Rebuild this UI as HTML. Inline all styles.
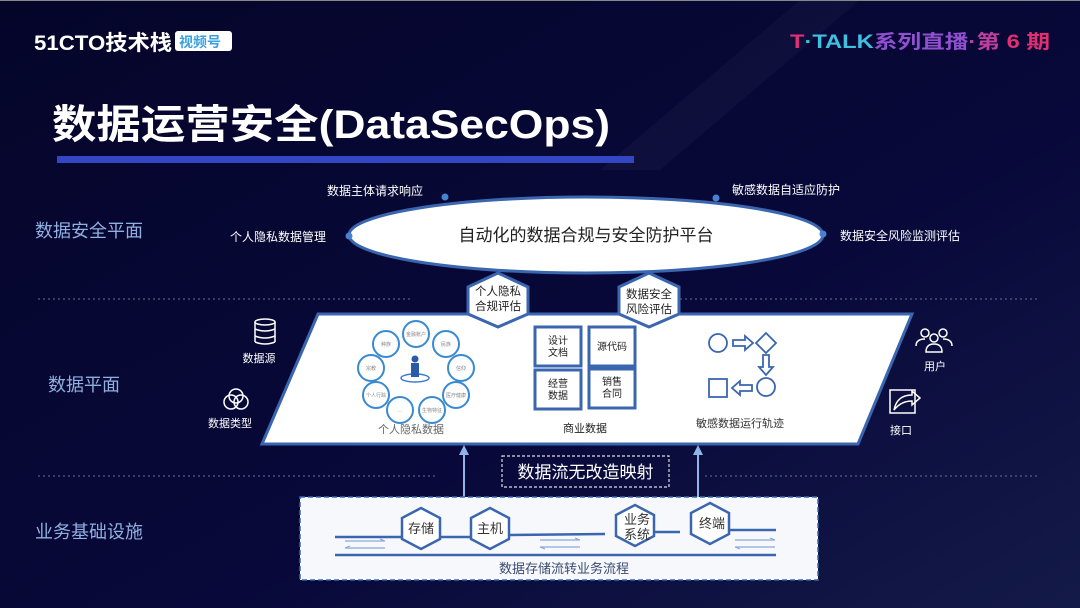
<!DOCTYPE html>
<html><head><meta charset="utf-8"><style>
html,body{margin:0;padding:0;width:1080px;height:608px;overflow:hidden;background:#05052a}
svg{display:block}
text{font-family:"Liberation Sans","Noto Sans CJK SC",sans-serif}
</style></head><body>
<svg width="1080" height="608" viewBox="0 0 1080 608" xmlns="http://www.w3.org/2000/svg">
<defs>
<linearGradient id="bg" x1="0" y1="0" x2="1" y2="1">
<stop offset="0" stop-color="#05052a"/><stop offset="0.6" stop-color="#08093a"/><stop offset="1" stop-color="#141a48"/>
</linearGradient>
<marker id="ah" viewBox="0 0 10 10" refX="5" refY="5" markerWidth="5" markerHeight="5" orient="auto"><path d="M0,0L10,5L0,10z" fill="#8fb4e8"/></marker>
</defs>
<rect width="1080" height="608" fill="url(#bg)"/>
<polygon points="600,170 800,0 860,0 660,170" fill="#ffffff" opacity="0.03"/>
<rect x="0" y="0" width="1080" height="1" fill="#888"/>
<!-- header -->
<text x="34" y="50" font-size="21" font-weight="bold" fill="#fff" textLength="138" lengthAdjust="spacingAndGlyphs">51CTO技术栈</text>
<rect x="175" y="31" width="57" height="20" rx="3" fill="#fff"/>
<text x="179" y="47" font-size="14" font-weight="bold" fill="#3aa0e0">视频号</text>
<text x="790" y="48" font-size="19" font-weight="bold" textLength="260" lengthAdjust="spacingAndGlyphs"><tspan fill="#e0307a">T</tspan><tspan fill="#40c0e0">·TALK</tspan><tspan fill="#9050d0">系列直播</tspan><tspan fill="#c040a0">·第</tspan><tspan fill="#e03070"> 6 期</tspan></text>
<text x="52" y="138" font-size="40" font-weight="bold" fill="#fff" textLength="558" lengthAdjust="spacingAndGlyphs">数据运营安全(DataSecOps)</text>
<rect x="57" y="156" width="577" height="7" fill="#3346c4"/>
<!-- dotted lines -->
<line x1="38" y1="299" x2="410" y2="299" stroke="#6a7090" stroke-dasharray="2,3" stroke-width="1"/>
<line x1="650" y1="299" x2="1040" y2="299" stroke="#6a7090" stroke-dasharray="2,3" stroke-width="1"/>
<line x1="38" y1="476" x2="436" y2="476" stroke="#6a7090" stroke-dasharray="2,3" stroke-width="1"/>
<line x1="705" y1="476" x2="1040" y2="476" stroke="#6a7090" stroke-dasharray="2,3" stroke-width="1"/>
<!-- left labels -->
<text x="35" y="237" font-size="18" fill="#8fb0e0">数据安全平面</text>
<text x="48" y="391" font-size="18" fill="#8fb0e0">数据平面</text>
<text x="35" y="538" font-size="18" fill="#8fb0e0">业务基础设施</text>
<!-- ellipse -->
<ellipse cx="586" cy="235" rx="237" ry="38" fill="#fff" stroke="#3a66b0" stroke-width="3"/>
<text x="586" y="241" font-size="17" fill="#222" text-anchor="middle">自动化的数据合规与安全防护平台</text>
<circle cx="349" cy="236" r="3.5" fill="#4a80d0"/>
<circle cx="823" cy="234" r="3.5" fill="#4a80d0"/>
<circle cx="445" cy="197" r="3.5" fill="#4a80d0"/>
<circle cx="716" cy="198" r="3.5" fill="#4a80d0"/>
<text x="327" y="195" font-size="12" fill="#fff">数据主体请求响应</text>
<text x="732" y="194" font-size="12" fill="#fff">敏感数据自适应防护</text>
<text x="230" y="241" font-size="12" fill="#fff">个人隐私数据管理</text>
<text x="840" y="240" font-size="12" fill="#fff">数据安全风险监测评估</text>
<!-- parallelogram -->
<polygon points="318,314 912,314 858,444 262,444" fill="#fff" stroke="#3a66b0" stroke-width="3"/>
<!-- hexagons top -->
<polygon points="498,273 528,287 528,314 498,327 468,314 468,287" fill="#fff" stroke="#3a66b0" stroke-width="3"/>
<text x="498" y="295" font-size="11.5" fill="#222" text-anchor="middle">个人隐私</text>
<text x="498" y="310" font-size="11.5" fill="#222" text-anchor="middle">合规评估</text>
<polygon points="649,273 679,287 679,314 649,327 619,314 619,287" fill="#fff" stroke="#3a66b0" stroke-width="3"/>
<text x="649" y="298" font-size="11.5" fill="#222" text-anchor="middle">数据安全</text>
<text x="649" y="313" font-size="11.5" fill="#222" text-anchor="middle">风险评估</text>
<!-- privacy ring -->
<g fill="#fff" stroke="#3a8ad0" stroke-width="2">
<circle cx="416" cy="334" r="13"/><circle cx="446" cy="344" r="13"/><circle cx="461" cy="368" r="13"/>
<circle cx="456" cy="395" r="13"/><circle cx="432" cy="410" r="13"/><circle cx="400" cy="410" r="13"/>
<circle cx="376" cy="395" r="13"/><circle cx="371" cy="368" r="13"/><circle cx="386" cy="344" r="13"/>
</g>
<g font-size="5" fill="#888" text-anchor="middle">
<text x="416" y="336">金融账户</text><text x="446" y="346">民族</text><text x="461" y="370">信仰</text>
<text x="456" y="397">医疗健康</text><text x="432" y="412">生物特征</text><text x="400" y="412">…</text>
<text x="376" y="397">个人行踪</text><text x="371" y="370">宗教</text><text x="386" y="346">种族</text>
</g>
<ellipse cx="415" cy="378" rx="14" ry="4" fill="none" stroke="#3a7ad0" stroke-width="1.5"/>
<circle cx="415" cy="359" r="3.5" fill="#2a5aa8"/>
<rect x="411" y="363" width="8" height="14" fill="#2a5aa8"/>
<text x="411" y="433" font-size="11" fill="#666" text-anchor="middle">个人隐私数据</text>
<!-- business boxes -->
<g fill="#fff" stroke="#3a66b0" stroke-width="3">
<rect x="535" y="327" width="46" height="39"/><rect x="589" y="327" width="46" height="39"/>
<rect x="535" y="370" width="46" height="39"/><rect x="589" y="369" width="46" height="39"/>
</g>
<g font-size="10" fill="#222" text-anchor="middle">
<text x="558" y="344">设计</text><text x="558" y="356">文档</text>
<text x="612" y="350">源代码</text>
<text x="558" y="387">经营</text><text x="558" y="399">数据</text>
<text x="612" y="385">销售</text><text x="612" y="397">合同</text>
</g>
<text x="585" y="432" font-size="11" fill="#222" text-anchor="middle">商业数据</text>
<!-- flow -->
<g fill="none" stroke="#3a66b0" stroke-width="1.8">
<circle cx="718" cy="343" r="9"/>
<polygon points="766,333 776,343 766,353 756,343"/>
<path d="M733,340h12v-4l8,7-8,7v-4h-12z"/>
<path d="M763,355v12h-4l7,8 7-8h-4v-12z"/>
<circle cx="766" cy="387" r="9"/>
<rect x="709" y="379" width="18" height="18"/>
<path d="M752,385h-12v-4l-8,7 8,7v-4h12z"/>
</g>
<text x="740" y="427" font-size="11" fill="#333" text-anchor="middle">敏感数据运行轨迹</text>
<!-- side icons -->
<g fill="none" stroke="#fff" stroke-width="1.5">
<ellipse cx="265" cy="322" rx="10" ry="3"/>
<path d="M255,322v20M275,322v20M255,329q10,4 20,0M255,336q10,4 20,0M255,342q10,4 20,0"/>
<circle cx="236" cy="396" r="7"/><circle cx="231" cy="402" r="7"/><circle cx="241" cy="402" r="7"/>
<circle cx="925" cy="333" r="4"/><circle cx="943" cy="333" r="4"/><circle cx="934" cy="338" r="4"/>
<path d="M916,346q0-7 9-7M952,346q0-7-9-7M926,352q0-8 8-8 8,0 8,8z"/>
<rect x="890" y="390" width="25" height="23"/>
<path d="M894,410q3-15 18-15v-4l8,7-8,7v-4q-11,0-18,9z"/>
</g>
<text x="259" y="362" font-size="11" fill="#fff" text-anchor="middle">数据源</text>
<text x="230" y="427" font-size="11" fill="#fff" text-anchor="middle">数据类型</text>
<text x="935" y="370" font-size="11" fill="#fff" text-anchor="middle">用户</text>
<text x="901" y="434" font-size="11" fill="#fff" text-anchor="middle">接口</text>
<!-- up arrows -->
<line x1="464" y1="500" x2="464" y2="450" stroke="#8fb4e8" stroke-width="2" marker-end="url(#ah)"/>
<line x1="698" y1="500" x2="698" y2="450" stroke="#8fb4e8" stroke-width="2" marker-end="url(#ah)"/>
<rect x="502" y="456" width="167" height="31" fill="none" stroke="#ddd" stroke-width="1.2" stroke-dasharray="3,2"/>
<text x="585.5" y="478" font-size="17" fill="#fff" text-anchor="middle">数据流无改造映射</text>
<!-- bottom box -->
<rect x="300" y="497" width="518" height="83" fill="#f7f8fc" stroke="#3a66b0" stroke-width="1.5" stroke-dasharray="5,3"/>
<g stroke="#3a66b0" stroke-width="2.5" fill="none">
<line x1="335" y1="537" x2="406" y2="537"/><line x1="440" y1="537" x2="470" y2="537"/>
<line x1="510" y1="535" x2="605" y2="534"/><line x1="650" y1="532" x2="680" y2="532"/><line x1="725" y1="530" x2="776" y2="530"/>
<line x1="335" y1="555" x2="776" y2="555"/>
</g>
<g stroke="#8aa8dc" stroke-width="1.2" fill="none">
<path d="M345,541h40M345,548h40M345,548l5,-2M385,541l-5,-2"/>
<path d="M540,540h40M540,547h40M580,540l-5,-2M540,547l5,2"/>
<path d="M735,540h40M735,547h40M775,540l-5,-2M735,547l5,2"/>
</g>
<g fill="#fff" stroke="#3a66b0" stroke-width="2.5">
<polygon points="421,508 440,518 440,539 421,549 402,539 402,518"/>
<polygon points="490,508 509,518 509,539 490,549 471,539 471,518"/>
<polygon points="635,505 654,515 654,536 635,546 616,536 616,515"/>
<polygon points="710,503 729,513 729,534 710,544 691,534 691,513"/>
</g>
<g font-size="13" fill="#333" text-anchor="middle">
<text x="421" y="533">存储</text><text x="490" y="533">主机</text>
<text x="637" y="524">业务</text><text x="637" y="539">系统</text>
<text x="712" y="528">终端</text>
</g>
<text x="564" y="573" font-size="13" fill="#3a4a70" text-anchor="middle">数据存储流转业务流程</text>
</svg>
</body></html>
